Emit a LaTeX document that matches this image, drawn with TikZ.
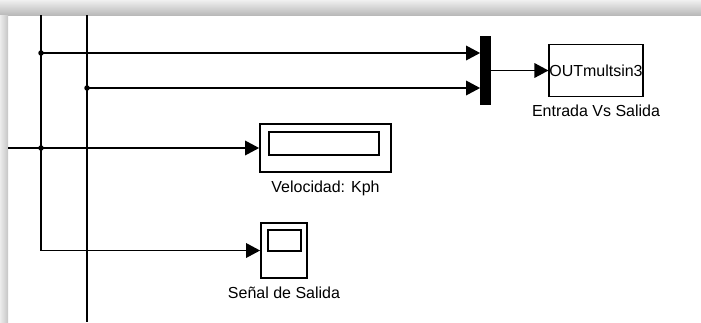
\documentclass[tikz,border=0pt]{standalone}
\usepackage{fontspec}
\setmainfont{Liberation Sans}
\usetikzlibrary{arrows.meta, positioning, calc}

\begin{document}
\begin{tikzpicture}[x=0.02cm, y=-0.02cm, every node/.style={font=\fontsize{9.1}{11}\selectfont},
  wire/.style={line width=0.95pt},
  sig/.style={wire, -{Triangle[length=0.28cm, width=0.29cm]}},
  blk/.style={draw, line width=1pt, inner sep=0pt},
  junc/.style={circle, fill, inner sep=0pt, minimum size=0.11cm}]
  \useasboundingbox (0,0) rectangle (701,322);
  % window shadow
  \shade[top color=gray!12, bottom color=gray!55] (0,0) rectangle (701,15);
  \shade[left color=gray!15, right color=gray!45] (0,15) rectangle (8,322);
  % blocks
  \node[blk, fill=black, minimum width=0.18cm, minimum height=1.34cm] (mux) at (485.5,70.5) {};
  \node[blk, minimum width=1.84cm, minimum height=1.04cm] (ent) at (596,70.5) {OUTmultsin3};
  \node[blk, minimum width=2.62cm, minimum height=0.96cm] (vel) at (325.5,148) {};
  \node[blk, minimum width=2.2cm, minimum height=0.46cm] (velin) at (324,143.5) {};
  \node[blk, minimum width=0.92cm, minimum height=1.1cm] (sen) at (284,250.5) {};
  \node[blk, minimum width=0.66cm, minimum height=0.42cm] (senin) at (284.5,240.5) {};
  \node[below=1pt of ent] (entlbl) {Entrada Vs Salida};
  \node[below=1pt of vel] (vellbl) {Velocidad: Kph};
  \node[below=1pt of sen] (senlbl) {Señal de Salida};
  % branch points
  \coordinate (top1) at (41,15);
  \coordinate (top2) at (87,15);
  \coordinate (bot2) at (87,322);
  \coordinate (in3) at (8,148);
  \node[junc] (j1) at (41,53) {};
  \node[junc] (j2) at (87,88) {};
  \node[junc] (j3) at (41,148) {};
  % signals
  \draw[sig] (top1) |- (sen.west);
  \draw[wire] (top2) -- (bot2);
  \draw[sig] (in3) -- (vel.west);
  \draw[sig] (j1.center) -- (j1 -| mux.west);
  \draw[sig] (j2.center) -- (j2 -| mux.west);
  \draw[sig] (mux.east) -- (ent.west);
\end{tikzpicture}
\end{document}
